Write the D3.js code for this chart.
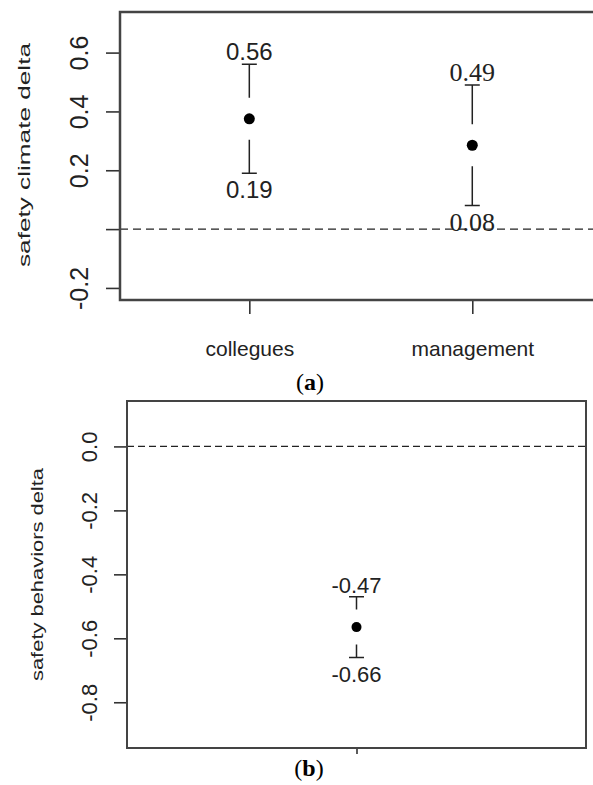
<!DOCTYPE html>
<html>
<head>
<meta charset="utf-8">
<script src="https://cdn.jsdelivr.net/npm/d3@7"></script>
<style>
  body { margin: 0; background: #fff; }
  svg { display: block; }
</style>
</head>
<body>
<svg width="593" height="785"></svg>
<script>
(function () {
  'use strict';

  // ---- panel (a): safety climate ----
  const climateCats = ["collegues", "management"];
  const climateMean = [0.375, 0.285];
  const climateLow = [0.19, 0.08];
  const climateHigh = [0.56, 0.49];
  const climateLowText = ["0.19", "0.08"];
  const climateHighText = ["0.56", "0.49"];
  const climateTicks = [-0.2, 0, 0.2, 0.4, 0.6];
  const climateTickLabels = ["-0.2", "", "0.2", "0.4", "0.6"];

  // ---- panel (b): safety behaviors ----
  const behaviorCats = [""];
  const behaviorMean = [-0.565];
  const behaviorLow = [-0.66];
  const behaviorHigh = [-0.47];
  const behaviorLowText = ["-0.66"];
  const behaviorHighText = ["-0.47"];
  const behaviorTicks = [-0.8, -0.6, -0.4, -0.2, 0.0];
  const behaviorTickLabels = ["-0.8", "-0.6", "-0.4", "-0.2", "0.0"];

  const svg = d3.select("svg");
  const sans = "'Liberation Sans', Arial, sans-serif";
  const serif = "'Liberation Serif', 'Times New Roman', serif";

  // draws one CI panel
  function panel(o) {
    const x = d3.scaleLinear().domain(o.xDomain).range([o.left, o.right]);
    const y = d3.scaleLinear().domain(o.yDomain).range([o.bottom, o.top]);
    const g = svg.append("g");

    // zero reference line
    g.append("line")
      .attr("x1", o.left).attr("x2", o.right)
      .attr("y1", y(0)).attr("y2", y(0))
      .attr("stroke", "#222").attr("stroke-width", 1.3)
      .attr("stroke-dasharray", o.dash);

    // y axis
    const yAxis = d3.axisLeft(y)
      .tickValues(o.ticks)
      .tickFormat((d, i) => o.tickLabels[i])
      .tickSize(o.tickLen)
      .tickSizeOuter(0);
    const ya = g.append("g")
      .attr("transform", `translate(${o.left},0)`)
      .call(yAxis);
    ya.select(".domain").remove();
    ya.selectAll("line").attr("stroke", "#333").attr("stroke-width", 1.6);
    ya.selectAll("text")
      .attr("x", null).attr("dy", null)
      .attr("transform", `translate(${-o.tickLabelOff},0) rotate(-90)`)
      .attr("text-anchor", "middle")
      .attr("font-family", sans)
      .attr("font-size", o.tickFont)
      .attr("fill", "#222");

    // x axis ticks
    const xAxis = d3.axisBottom(x)
      .tickValues(o.cats.map((c, i) => i + 1))
      .tickFormat((d) => o.cats[d - 1])
      .tickSize(o.xTickLen)
      .tickSizeOuter(0);
    const xa = g.append("g")
      .attr("transform", `translate(0,${o.bottom})`)
      .call(xAxis);
    xa.select(".domain").remove();
    xa.selectAll("line").attr("stroke", "#333").attr("stroke-width", 1.6);
    xa.selectAll("text")
      .attr("y", o.catBaseline - o.bottom).attr("dy", null)
      .attr("font-family", sans)
      .attr("font-size", o.catFont)
      .attr("fill", "#222");

    // box
    g.append("rect")
      .attr("x", o.left).attr("y", o.top)
      .attr("width", o.right - o.left).attr("height", o.bottom - o.top)
      .attr("fill", "none").attr("stroke", "#444").attr("stroke-width", o.boxW);

    // y title
    g.append("text")
      .attr("transform", `translate(${o.titleX},${(o.top + o.bottom) / 2 + o.titleShift}) rotate(-90)`)
      .attr("text-anchor", "middle")
      .attr("font-family", sans)
      .attr("font-size", o.titleFont)
      .attr("textLength", o.titleLen)
      .attr("lengthAdjust", "spacingAndGlyphs")
      .attr("fill", "#222")
      .text(o.title);

    // whiskers with a gap around the point
    const idx = o.mean.map((d, i) => i);
    g.selectAll(".up").data(idx).enter().append("path")
      .attr("d", i => {
        const cx = x(i + 1), cy = y(o.high[i]);
        return `M${cx},${y(o.mean[i]) - o.gap}V${cy}M${cx - o.cap},${cy}H${cx + o.cap}`;
      })
      .attr("stroke", "#222").attr("stroke-width", 1.5).attr("fill", "none");
    g.selectAll(".down").data(idx).enter().append("path")
      .attr("d", i => {
        const cx = x(i + 1), cy = y(o.low[i]);
        return `M${cx},${y(o.mean[i]) + o.gap}V${cy}M${cx - o.cap},${cy}H${cx + o.cap}`;
      })
      .attr("stroke", "#222").attr("stroke-width", 1.5).attr("fill", "none");

    g.selectAll("circle").data(idx).enter().append("circle")
      .attr("cx", i => x(i + 1))
      .attr("cy", i => y(o.mean[i]))
      .attr("r", o.r)
      .attr("fill", "#000");

    // CI labels
    g.selectAll(".hi").data(idx).enter().append("text")
      .attr("x", i => x(i + 1))
      .attr("y", i => y(o.high[i]) - 4)
      .attr("text-anchor", "middle")
      .attr("font-family", i => o.labelFonts[i])
      .attr("font-size", i => o.labelSizes[i])
      .attr("fill", "#222")
      .text(i => o.highText[i]);
    g.selectAll(".lo").data(idx).enter().append("text")
      .attr("x", i => x(i + 1))
      .attr("y", i => y(o.low[i]) + 25)
      .attr("text-anchor", "middle")
      .attr("font-family", i => o.labelFonts[i])
      .attr("font-size", i => o.labelSizes[i])
      .attr("fill", "#222")
      .text(i => o.lowText[i]);
  }

  panel({
    left: 120, right: 601.6, top: 12, bottom: 300,
    xDomain: [0.42, 2.58], yDomain: [-0.241, 0.738],
    cats: climateCats, mean: climateMean, low: climateLow, high: climateHigh,
    lowText: climateLowText, highText: climateHighText,
    ticks: climateTicks, tickLabels: climateTickLabels,
    tickLen: 14, xTickLen: 14, tickLabelOff: 32, tickFont: 25,
    catBaseline: 356, catFont: 21,
    title: "safety climate delta", titleX: 30, titleShift: -1, titleFont: 17, titleLen: 224,
    dash: "8,5", boxW: 2.5, gap: 21, cap: 7.5, r: 5.5,
    labelFonts: [sans, serif], labelSizes: [24, 26]
  });

  panel({
    left: 127, right: 586, top: 401, bottom: 748,
    xDomain: [0, 2], yDomain: [-0.943, 0.142],
    cats: behaviorCats, mean: behaviorMean, low: behaviorLow, high: behaviorHigh,
    lowText: behaviorLowText, highText: behaviorHighText,
    ticks: behaviorTicks, tickLabels: behaviorTickLabels,
    tickLen: 13, xTickLen: 6, tickLabelOff: 30, tickFont: 22,
    catBaseline: 770, catFont: 20,
    title: "safety behaviors delta", titleX: 43, titleShift: 0, titleFont: 17, titleLen: 213,
    dash: "7,4", boxW: 2, gap: 17.5, cap: 7.5, r: 5,
    labelFonts: [sans], labelSizes: [22]
  });

  // panel captions
  const captions = [{t: "a", x: 310, y: 390}, {t: "b", x: 309, y: 776}];
  captions.forEach(c => {
    const t = svg.append("text")
      .attr("x", c.x).attr("y", c.y)
      .attr("text-anchor", "middle")
      .attr("font-family", serif)
      .attr("font-size", 24)
      .attr("fill", "#000");
    t.append("tspan").text("(");
    t.append("tspan").attr("font-weight", "bold").text(c.t);
    t.append("tspan").text(")");
  });
}());
</script>
</body>
</html>
